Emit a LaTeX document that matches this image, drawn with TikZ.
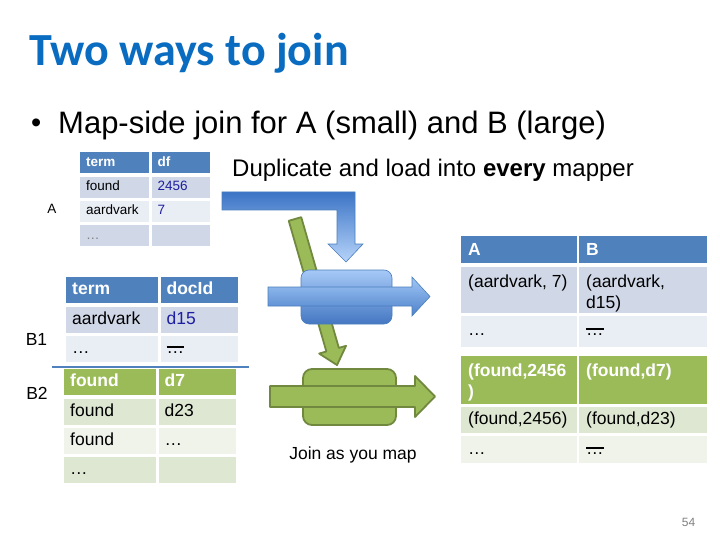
\documentclass[tikz,border=0pt]{standalone}
\usepackage{fontspec}
\setmainfont{Liberation Sans}
\newfontfamily\titlefont{Carlito}
\usetikzlibrary{positioning}

\definecolor{hdrblue}{RGB}{79,129,189}
\definecolor{rowblueA}{RGB}{208,216,232}
\definecolor{rowblueB}{RGB}{233,237,244}
\definecolor{hdrgreen}{RGB}{155,187,89}
\definecolor{rowgreenA}{RGB}{222,231,209}
\definecolor{rowgreenB}{RGB}{239,243,234}
\definecolor{edgegreen}{RGB}{113,137,63}
\definecolor{edgeblue}{RGB}{74,126,187}
\definecolor{titleblue}{RGB}{10,108,192}
\definecolor{numblue}{RGB}{30,30,160}

\newcommand{\bardots}{\leavevmode\vphantom{A}\rlap{\rule[0.32em]{1em}{0.11em}}…}
\newcommand{\moredots}{\leavevmode\vphantom{A}…}

\begin{document}
\begin{tikzpicture}[x=1pt, y=-1pt]
    % Styles
    \tikzstyle{cell} = [rectangle, anchor=north west, inner xsep=6pt, inner ysep=0pt, align=left, text=black]
    \tikzstyle{small} = [font=\fontsize{13.5}{15}\selectfont, minimum height=21pt, text height=9.7pt, text depth=2.8pt]
    \tikzstyle{smallhd} = [small, font=\fontsize{13.5}{15}\selectfont\bfseries, text=white]
    \tikzstyle{big} = [font=\fontsize{17.5}{20}\selectfont, minimum height=26pt, text height=12.6pt, text depth=3.7pt]
    \tikzstyle{bighd} = [big, font=\fontsize{17.5}{20}\selectfont\bfseries, text=white]
    \tikzstyle{rcell} = [rectangle, anchor=north west, inner sep=0pt]
    \tikzstyle{rtext} = [anchor=north west, inner xsep=7pt, inner ysep=7.5pt, align=left, font=\fontsize{17.5}{21.5}\selectfont]
    \tikzstyle{rtexthd} = [rtext, font=\fontsize{17.5}{21.5}\selectfont\bfseries, text=white]
    \tikzstyle{txt} = [inner sep=0pt]
    \tikzstyle{bluearrow} = [draw=edgeblue, line width=0.6pt]
    \tikzstyle{greenarrow} = [draw=edgegreen, fill=hdrgreen, line width=1.8pt, line join=round]
    \tikzstyle{mapperblue} = [rectangle, rounded corners=8pt, draw=edgeblue, line width=0.6pt, top color={rgb,255:red,166;green,201;blue,247}, bottom color={rgb,255:red,68;green,119;blue,194}, minimum width=91pt, minimum height=54pt]
    \tikzstyle{mappergreen} = [rectangle, rounded corners=9pt, draw=edgegreen, fill=hdrgreen, line width=1.8pt, minimum width=93pt, minimum height=56pt]

    \fill[white] (0,0) rectangle (720,540);
    \useasboundingbox (0,0) rectangle (720,540);

    % Title
    \node[txt, anchor=base west, text=titleblue, font=\titlefont\bfseries\fontsize{46}{54}\selectfont] (title) at (29,66) {Two ways to join};
    \node[txt, anchor=base west, font=\fontsize{29}{32}\selectfont] (bullet) at (31,133) {•};
    \node[txt, anchor=base west, font=\fontsize{31}{36}\selectfont] (point) at (58,134) {Map-side join for A (small) and B (large)};
    \node[txt, anchor=base west, font=\fontsize{24}{28}\selectfont] (dup) at (232,177) {Duplicate and load into \textbf{every} mapper};

    % Table A
    \node[txt, anchor=base, font=\fontsize{13.5}{15}\selectfont] (lblA) at (52,213.5) {A};
    \node[cell, smallhd, fill=hdrblue, text width=57pt] (a11) at (80,152) {term};
    \node[cell, smallhd, fill=hdrblue, text width=46pt, right=2pt of a11] (a12) {df};
    \node[cell, small, fill=rowblueA, text width=57pt, below=3pt of a11] (a21) {found};
    \node[cell, small, fill=rowblueA, text width=46pt, text=numblue, below=3pt of a12] (a22) {2456};
    \node[cell, small, fill=rowblueB, text width=57pt, below=3pt of a21] (a31) {aardvark};
    \node[cell, small, fill=rowblueB, text width=46pt, text=numblue, below=3pt of a22] (a32) {7};
    \node[cell, small, fill=rowblueA, text width=57pt, text=gray, below=3pt of a31] (a41) {…};
    \node[cell, small, fill=rowblueA, text width=46pt, below=3pt of a32] (a42) {};

    % Table B1
    \node[txt, anchor=base, font=\fontsize{17.5}{20}\selectfont] (lblB1) at (36.5,345) {B1};
    \node[cell, bighd, fill=hdrblue, text width=80pt] (b11) at (66,277) {term};
    \node[cell, bighd, fill=hdrblue, text width=65pt, right=2pt of b11] (b12) {docId};
    \node[cell, big, fill=rowblueA, text width=80pt, below=3pt of b11] (b21) {aardvark};
    \node[cell, big, fill=rowblueA, text width=65pt, text=numblue, below=3pt of b12] (b22) {d15};
    \node[cell, big, fill=rowblueB, text width=80pt, below=3pt of b21] (b31) {…};
    \node[cell, big, fill=rowblueB, text width=65pt, below=3pt of b22] (b32) {\bardots};
    \coordinate (cutL) at (52,367);
    \coordinate (cutR) at (249,367);
    \draw[hdrblue, line width=2.5pt] (cutL) -- (cutR);

    % Table B2
    \node[txt, anchor=base, font=\fontsize{17.5}{20}\selectfont] (lblB2) at (37,399) {B2};
    \node[cell, bighd, fill=hdrgreen, text width=80pt] (c11) at (64,369) {found};
    \node[cell, bighd, fill=hdrgreen, text width=65pt, right=2pt of c11] (c12) {d7};
    \node[cell, big, fill=rowgreenA, text width=80pt, below=3pt of c11] (c21) {found};
    \node[cell, big, fill=rowgreenA, text width=65pt, below=3pt of c12] (c22) {d23};
    \node[cell, big, fill=rowgreenB, text width=80pt, below=3pt of c21] (c31) {found};
    \node[cell, big, fill=rowgreenB, text width=65pt, below=3pt of c22] (c32) {…};
    \node[cell, big, fill=rowgreenA, text width=80pt, below=3pt of c31] (c41) {…};
    \node[cell, big, fill=rowgreenA, text width=65pt, below=3pt of c32] (c42) {};

    % Result table
    \node[rcell, fill=hdrblue, minimum width=116pt, minimum height=27pt, label={[rtexthd]north west:A}] (r11) at (461,236) {};
    \node[rcell, fill=hdrblue, minimum width=128pt, minimum height=27pt, label={[rtexthd]north west:B}] (r12) at (579,236) {};
    \node[rcell, fill=rowblueA, minimum width=116pt, minimum height=46pt, label={[rtext]north west:{(aardvark, 7)}}] (r21) at (461,267) {};
    \node[rcell, fill=rowblueA, minimum width=128pt, minimum height=46pt, label={[rtext]north west:{(aardvark,\\d15)}}] (r22) at (579,267) {};
    \node[rcell, fill=rowblueB, minimum width=116pt, minimum height=31pt, label={[rtext]north west:\moredots}] (r31) at (461,316) {};
    \node[rcell, fill=rowblueB, minimum width=128pt, minimum height=31pt, label={[rtext]north west:\bardots}] (r32) at (579,316) {};
    \node[rcell, fill=hdrgreen, minimum width=116pt, minimum height=48pt, label={[rtexthd]north west:{(found,2456\\)}}] (r41) at (461,356) {};
    \node[rcell, fill=hdrgreen, minimum width=128pt, minimum height=48pt, label={[rtexthd]north west:{(found,d7)}}] (r42) at (579,356) {};
    \node[rcell, fill=rowgreenA, minimum width=116pt, minimum height=26pt, label={[rtext, inner ysep=5pt]north west:{(found,2456)}}] (r51) at (461,407) {};
    \node[rcell, fill=rowgreenA, minimum width=128pt, minimum height=26pt, label={[rtext, inner ysep=5pt]north west:{(found,d23)}}] (r52) at (579,407) {};
    \node[rcell, fill=rowgreenB, minimum width=116pt, minimum height=27pt, label={[rtext, inner ysep=6pt]north west:\moredots}] (r61) at (461,436) {};
    \node[rcell, fill=rowgreenB, minimum width=128pt, minimum height=27pt, label={[rtext, inner ysep=6pt]north west:\bardots}] (r62) at (579,436) {};

    % Green arrow from mapper to mapper
    \begin{scope}[shift={(295,219)}, rotate=-73.95]
        \draw[greenarrow] (0,-6.5) -- (136,-6.5) -- (136,-14) -- (152,0) -- (136,14) -- (136,6.5) -- (0,6.5) -- cycle;
    \end{scope}

    % Duplicate arrow
    \draw[bluearrow, top color={rgb,255:red,60;green,116;blue,198}, bottom color={rgb,255:red,182;green,212;blue,250}] (222,192) -- (355,192) -- (355,244) -- (363,244) -- (346,262) -- (328,244) -- (337,244) -- (337,210) -- (222,210) -- cycle;

    % Mappers
    \node[mapperblue] (map1) at (346.5,297) {};
    \draw[bluearrow, top color={rgb,255:red,160;green,198;blue,244}, bottom color={rgb,255:red,78;green,130;blue,204}] (268,287) -- (412,287) -- (412,277) -- (430,296.5) -- (412,316) -- (412,306) -- (268,306) -- cycle;
    \node[mappergreen] (map2) at (349.5,397) {};
    \draw[greenarrow] (270,386) -- (415,386) -- (415,376) -- (435,396.5) -- (415,417) -- (415,407) -- (270,407) -- cycle;

    \node[txt, anchor=base, font=\fontsize{17.5}{20}\selectfont] (join) at (353,459) {Join as you map};
    \node[txt, anchor=base, font=\fontsize{12}{14}\selectfont, text=gray] (pagenum) at (688.5,526) {54};
\end{tikzpicture}
\end{document}
